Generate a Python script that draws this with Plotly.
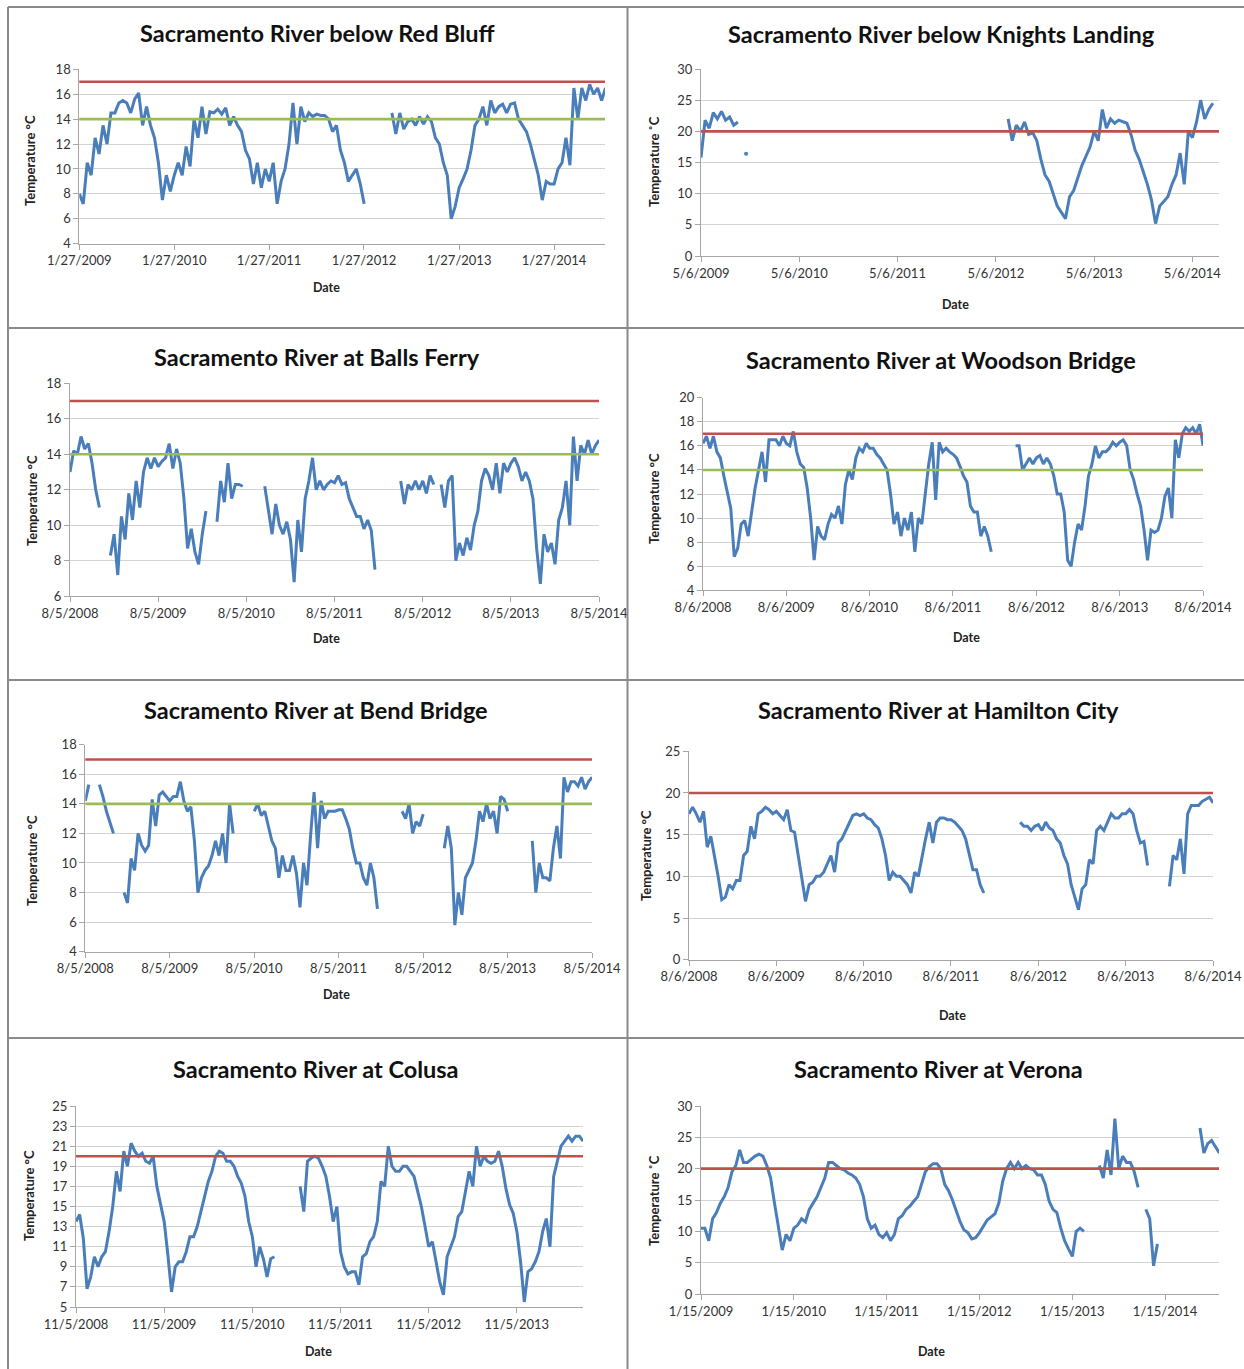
import plotly.graph_objects as go
import pandas as pd

N = None
W, H = 1244, 1369
STEP_DAYS = 365.25 / 24  # spacing of the readings

# ------------------------------------------------------------------ data
RB_START = "2009-01-27"
RB_TEMP = [
    8.0, 7.2, 10.5, 9.5, 12.5, 11.2, 13.5, 12.0, 14.5, 14.5, 15.3, 15.5, 15.3, 14.5, 15.6, 16.1, 13.5, 15.0, 13.5, 12.5, 10.5, 7.5, 9.5, 8.2,
    9.5, 10.5, 9.5, 11.8, 10.2, 14.0, 12.5, 15.0, 12.8, 14.6, 14.5, 14.8, 14.4, 14.9, 13.5, 14.2, 13.5, 13.0, 11.5, 10.8, 8.8, 10.5, 8.5, 10.0,
    9.0, 10.5, 7.2, 9.0, 10.0, 12.0, 15.3, 12.0, 15.0, 13.8, 14.5, 14.2, 14.4, 14.3, 14.3, 14.0, 13.0, 13.5, 11.5, 10.5, 9.0, 9.5, 10.0, 8.8,
    7.2, N, N, N, N, N, N, 14.5, 12.8, 14.5, 13.2, 13.8, 14.0, 13.5, 14.2, 13.6, 14.2, 13.8, 12.5, 12.0, 10.5, 9.5, 6.0, 7.0,
    8.5, 9.2, 10.0, 11.5, 13.5, 14.0, 15.0, 13.5, 15.5, 14.5, 15.0, 15.2, 14.5, 15.2, 15.3, 14.0, 13.5, 13.0, 12.0, 10.8, 9.5, 7.5, 9.0, 8.8,
    8.8, 10.0, 10.5, 12.5, 10.3, 16.5, 14.0, 16.5, 15.5, 16.8, 16.0, 16.5, 15.5, 16.5,
]
RB_TICKS = ["1/27/2009", "1/27/2010", "1/27/2011", "1/27/2012", "1/27/2013", "1/27/2014"]
RB_END = "2014-08-11"
RB_Y = [4, 6, 8, 10, 12, 14, 16, 18]
RB_LIMITS = [17, 14]

KL_START = "2009-05-06"
KL_TEMP = (
    [15.8, 21.8, 20.5, 23.0, 22.0, 23.2, 21.8, 22.3, 21.0, 21.5, N, 16.4]
    + [N] * 63
    + [22.0, 18.5, 21.0, 20.0, 21.5, 19.5, 19.8, 18.5, 15.5, 13.0, 12.0, 10.0, 8.0, 7.0, 6.0, 9.5, 10.5, 12.5,
       14.5, 16.0, 17.5, 20.0, 18.5, 23.5, 20.5, 22.0, 21.3, 21.8, 21.5, 21.3, 19.5, 17.0, 15.5, 13.5, 11.5, 9.0,
       5.2, 8.0, 8.8, 9.5, 11.5, 13.0, 16.5, 11.5, 20.0, 19.0, 21.5, 25.0, 22.0, 23.5, 24.5]
)
KL_TICKS = ["5/6/2009", "5/6/2010", "5/6/2011", "5/6/2012", "5/6/2013", "5/6/2014"]
KL_END = "2014-08-13"
KL_Y = [0, 5, 10, 15, 20, 25, 30]
KL_LIMITS = [20]

BF_START = "2008-08-05"
BF_TEMP = [
    13.0, 14.2, 14.0, 15.0, 14.3, 14.6, 13.5, 12.0, 11.0, N, N,
    8.3, 9.5, 7.2, 10.5, 9.2, 11.8, 10.3, 12.5, 11.0, 13.0, 13.8, 13.2, 13.8, 13.3, 13.6, 13.8, 14.6, 13.2, 14.3,
    13.5, 11.5, 8.7, 9.8, 8.5, 7.8, 9.5, 10.8, N, N,
    10.2, 12.5, 11.3, 13.5, 11.5, 12.3, 12.3, 12.2, N, N, N, N, N,
    12.2, 10.8, 9.5, 11.2, 10.0, 9.5, 10.2, 9.2, 6.8, 10.3, 8.5, 11.5, 12.5, 13.8, 12.0, 12.5, 12.0, 12.3, 12.5,
    12.4, 12.8, 12.3, 12.4, 11.5, 11.0, 10.5, 10.5, 9.8, 10.3, 9.7, 7.5, N, N, N, N, N, N,
    12.5, 11.2, 12.3, 12.0, 12.5, 12.0, 12.5, 11.8, 12.8, 12.3, N,
    12.3, 11.0, 12.5, 12.8, 8.0, 9.0, 8.3, 9.3, 8.6, 10.0, 10.8, 12.5, 13.2, 12.8, 12.0, 13.5, 11.8, 13.5, 13.0,
    13.5, 13.8, 13.3, 12.5, 13.0, 12.5, 11.5, 8.7, 6.7, 9.5, 8.5, 9.0, 7.8, 10.3, 11.0, 12.5, 10.0, 15.0, 12.5,
    14.5, 14.0, 14.8, 14.0, 14.5, 14.8,
]
BF_TICKS = ["8/5/2008", "8/5/2009", "8/5/2010", "8/5/2011", "8/5/2012", "8/5/2013", "8/5/2014"]
BF_END = "2014-08-05"
BF_Y = [6, 8, 10, 12, 14, 16, 18]
BF_LIMITS = [17, 14]

WB_START = "2008-08-06"
WB_TEMP = [
    16.2, 16.8, 15.8, 16.8, 15.5, 15.0, 13.5, 12.0, 10.8, 6.8, 7.5, 9.5, 9.8, 8.5, 10.5, 12.5, 14.0, 15.5, 13.0, 16.5,
    16.5, 16.5, 16.0, 16.8, 16.2, 16.0, 17.2, 15.5, 14.5, 14.2, 12.5, 10.0, 6.5, 9.3, 8.5, 8.2, 9.5, 10.3, 10.0, 11.0,
    9.5, 12.8, 14.0, 13.2, 15.0, 15.8, 15.5, 16.2, 15.8, 15.8, 15.3, 15.0, 14.5, 14.0, 12.0, 9.5, 10.5, 8.5, 10.0, 9.0,
    10.5, 7.2, 10.0, 9.5, 12.0, 14.5, 16.3, 11.5, 16.3, 15.5, 15.8, 15.5, 15.3, 15.0, 14.3, 13.5, 13.0, 11.0, 10.5, 10.5,
    8.5, 9.3, 8.5, 7.2, N, N, N, N, N, N,
    16.0, 16.0, 14.0, 14.5, 15.0, 14.5, 15.0, 15.2, 14.5, 15.0, 14.5, 13.5, 12.0, 12.0, 10.5, 6.5, 6.0, 8.0, 9.5, 9.0,
    11.0, 13.5, 14.5, 16.0, 15.0, 15.5, 15.5, 15.8, 16.3, 16.0, 16.3, 16.5, 16.0, 14.0, 13.2, 12.0, 11.0, 9.0, 6.5, 9.0,
    8.8, 9.0, 10.0, 11.8, 12.5, 10.0, 16.5, 15.0, 17.0, 17.5, 17.2, 17.5, 17.0, 17.8, 16.0,
]
WB_TICKS = ["8/6/2008", "8/6/2009", "8/6/2010", "8/6/2011", "8/6/2012", "8/6/2013", "8/6/2014"]
WB_END = "2014-08-06"
WB_Y = [4, 6, 8, 10, 12, 14, 16, 18, 20]
WB_LIMITS = [17, 14]

BB_START = "2008-08-05"
BB_TEMP = [
    14.2, 15.3, N, N, 15.3, 14.5, 13.5, 12.8, 12.0, N, N,
    8.0, 7.3, 10.3, 9.5, 12.0, 11.2, 10.8, 11.2, 14.3, 12.5, 14.6, 14.8, 14.5, 14.2, 14.5, 14.5, 15.5, 14.2, 13.5, 13.8,
    11.5, 8.0, 9.0, 9.5, 9.8, 10.5, 11.5, 10.5, 12.0, 10.0, 14.0, 12.0, N, N, N, N, N,
    13.5, 14.0, 13.2, 13.5, 12.5, 11.5, 11.0, 9.0, 10.5, 9.5, 9.5, 10.5, 9.3, 7.0, 10.0, 8.5, 11.8, 14.8, 11.0, 14.2,
    13.0, 13.5, 13.5, 13.5, 13.6, 13.6, 13.0, 12.3, 11.0, 10.0, 10.0, 9.0, 8.5, 10.0, 9.0, 6.9, N, N, N, N, N, N,
    13.5, 13.0, 14.0, 12.0, 12.8, 12.5, 13.3, N, N, N, N, N,
    11.0, 12.5, 11.0, 5.8, 8.0, 6.5, 9.0, 9.5, 10.0, 11.5, 13.5, 12.8, 14.0, 13.0, 13.5, 12.0, 14.5, 14.3, 13.5,
    N, N, N, N, N, N,
    11.5, 8.0, 10.0, 9.0, 9.0, 8.8, 11.0, 12.5, 10.3, 15.8, 14.8, 15.5, 15.5, 15.2, 15.8, 15.0, 15.5, 15.8,
]
BB_TICKS = ["8/5/2008", "8/5/2009", "8/5/2010", "8/5/2011", "8/5/2012", "8/5/2013", "8/5/2014"]
BB_END = "2014-08-05"
BB_Y = [4, 6, 8, 10, 12, 14, 16, 18]
BB_LIMITS = [17, 14]

HC_START = "2008-08-06"
HC_TEMP = [
    17.5, 18.3, 17.5, 16.5, 17.8, 13.5, 14.8, 12.5, 10.0, 7.2, 7.5, 9.0, 8.5, 9.5, 9.5, 12.5, 13.0, 16.0, 14.5, 17.5,
    17.8, 18.3, 18.0, 17.5, 17.8, 17.3, 16.8, 18.0, 15.5, 15.3, 12.5, 10.0, 7.0, 9.0, 9.3, 10.0, 10.0, 10.5, 11.5, 12.5,
    10.5, 14.0, 14.5, 15.5, 16.5, 17.3, 17.5, 17.3, 17.5, 17.0, 16.8, 16.2, 15.8, 14.5, 12.5, 9.5, 10.5, 10.0, 10.0, 9.5,
    9.0, 8.0, 10.5, 10.0, 12.5, 14.5, 16.5, 14.0, 16.5, 17.0, 17.0, 16.8, 16.8, 16.5, 16.0, 15.5, 14.5, 12.5, 10.8, 10.8,
    9.0, 8.0, N, N, N, N, N, N, N, N, N,
    16.5, 16.0, 16.0, 15.5, 16.0, 16.2, 15.5, 16.5, 15.8, 15.5, 14.5, 14.0, 12.5, 11.5, 9.0, 7.5, 6.0, 8.5, 9.0, 12.0,
    11.5, 15.5, 16.0, 15.5, 16.5, 17.5, 17.0, 17.0, 17.5, 17.5, 18.0, 17.5, 15.5, 14.0, 14.2, 11.3,
    N, N, N, N, N,
    8.8, 12.5, 12.0, 14.5, 10.3, 17.5, 18.5, 18.5, 18.5, 19.0, 19.3, 19.5, 18.8,
]
HC_TICKS = ["8/6/2008", "8/6/2009", "8/6/2010", "8/6/2011", "8/6/2012", "8/6/2013", "8/6/2014"]
HC_END = "2014-08-06"
HC_Y = [0, 5, 10, 15, 20, 25]
HC_LIMITS = [20]

CO_START = "2008-11-05"
CO_TEMP = [
    13.5, 14.2, 11.8, 6.8, 8.0, 10.0, 9.0, 10.0, 10.5, 12.5, 15.0, 18.5, 16.5, 20.5, 19.0, 21.3, 20.5, 20.0, 20.3, 19.5,
    19.3, 20.0, 17.0, 15.2, 13.5, 10.2, 6.5, 9.0, 9.5, 9.5, 10.5, 12.0, 12.0, 13.0, 14.5, 16.0, 17.5, 18.5, 20.0, 20.5,
    20.3, 19.5, 19.5, 19.0, 18.0, 17.3, 16.0, 13.5, 12.0, 9.0, 11.0, 9.8, 8.0, 9.8, 10.0,
    N, N, N, N, N, N,
    17.0, 14.5, 19.5, 19.8, 20.0, 19.8, 19.0, 18.0, 16.0, 13.5, 15.0, 10.5, 9.0, 8.3, 8.5, 8.5, 7.2, 10.0, 10.3, 11.5,
    12.0, 13.5, 17.5, 17.0, 21.0, 19.0, 18.5, 18.5, 19.0, 19.0, 18.5, 18.0, 16.5, 15.0, 13.0, 11.0, 11.5, 9.5, 7.5, 6.2,
    10.0, 11.0, 12.0, 14.0, 14.5, 16.5, 18.5, 17.0, 21.0, 19.0, 20.0, 19.5, 19.3, 19.5, 20.5, 19.0, 16.8, 15.2, 14.3, 12.5,
    9.5, 5.5, 8.5, 8.8, 9.5, 10.5, 12.5, 13.8, 11.0, 18.0, 19.5, 21.0, 21.5, 22.0, 21.5, 22.0, 22.0, 21.5,
]
CO_TICKS = ["11/5/2008", "11/5/2009", "11/5/2010", "11/5/2011", "11/5/2012", "11/5/2013"]
CO_END = "2014-08-06"
CO_Y = [5, 7, 9, 11, 13, 15, 17, 19, 21, 23, 25]
CO_LIMITS = [20]

VE_START = "2009-01-15"
VE_TEMP = [
    10.5, 10.5, 8.5, 12.0, 13.0, 14.5, 15.5, 17.0, 19.5, 20.5, 23.0, 21.0, 21.0, 21.5, 22.0, 22.3, 22.0, 20.5, 18.5, 14.5,
    10.5, 7.0, 9.5, 8.5, 10.5, 11.0, 12.0, 11.5, 13.5, 14.5, 15.5, 17.0, 18.5, 21.0, 21.0, 20.5, 20.0, 19.8, 19.3, 19.0,
    18.5, 17.5, 15.5, 12.0, 10.5, 11.0, 9.5, 9.0, 9.8, 8.5, 9.5, 12.0, 12.5, 13.5, 14.0, 14.8, 15.5, 17.5, 19.5, 20.3,
    20.8, 20.8, 20.0, 17.5, 16.5, 15.0, 13.2, 11.5, 10.2, 9.8, 8.8, 9.0, 9.8, 10.8, 11.8, 12.3, 12.8, 14.5, 18.0, 20.0,
    21.0, 20.0, 21.0, 20.0, 20.5, 20.0, 19.8, 19.0, 19.0, 17.5, 14.8, 13.5, 13.0, 10.5, 8.5, 7.2, 6.0, 10.0, 10.5, 10.0,
    N, N, N,
    20.5, 18.5, 23.0, 19.0, 28.0, 20.0, 22.0, 21.0, 21.0, 19.5, 17.0,
    N,
    13.5, 12.0, 4.5, 8.0,
    N, N, N, N, N, N, N, N, N, N,
    26.5, 22.5, 24.0, 24.5, 23.5, 22.5,
]
VE_TICKS = ["1/15/2009", "1/15/2010", "1/15/2011", "1/15/2012", "1/15/2013", "1/15/2014"]
VE_END = "2014-08-15"
VE_Y = [0, 5, 10, 15, 20, 25, 30]
VE_LIMITS = [20]

LIMIT_COLORS = {17: "#C0504D", 20: "#C0504D", 14: "#9BBB59"}

# ------------------------------------------------------------------ layout boxes (pixels)
FONT = "Lato, 'Open Sans', sans-serif"
BLUE = "#4A7EBB"

panels = [
    dict(title="Sacramento River below Red Bluff", start=RB_START, end=RB_END, temp=RB_TEMP, ticks=RB_TICKS,
         y=RB_Y, limits=RB_LIMITS, box=(79.3, 605, 69.3, 243.7), tpos=(317, 33), dpos=(326, 287), ypos=(30, 160),
         ytitle="Temperature °C"),
    dict(title="Sacramento River below Knights Landing", start=KL_START, end=KL_END, temp=KL_TEMP, ticks=KL_TICKS,
         y=KL_Y, limits=KL_LIMITS, box=(701, 1219, 69, 256), tpos=(941, 34), dpos=(955, 304), ypos=(654, 162),
         ytitle="Temperature ˚C"),
    dict(title="Sacramento River at Balls Ferry", start=BF_START, end=BF_END, temp=BF_TEMP, ticks=BF_TICKS,
         y=BF_Y, limits=BF_LIMITS, box=(70, 599, 383.3, 596.3), tpos=(317, 357), dpos=(326, 639), ypos=(32, 501),
         ytitle="Temperature °C"),
    dict(title="Sacramento River at Woodson Bridge", start=WB_START, end=WB_END, temp=WB_TEMP, ticks=WB_TICKS,
         y=WB_Y, limits=WB_LIMITS, box=(703, 1203, 397.7, 590.3), tpos=(941, 360), dpos=(967, 637), ypos=(654, 499),
         ytitle="Temperature °C"),
    dict(title="Sacramento River at Bend Bridge", start=BB_START, end=BB_END, temp=BB_TEMP, ticks=BB_TICKS,
         y=BB_Y, limits=BB_LIMITS, box=(85.3, 592, 744.7, 951.7), tpos=(316, 710), dpos=(336, 994), ypos=(32, 861),
         ytitle="Temperature °C"),
    dict(title="Sacramento River at Hamilton City", start=HC_START, end=HC_END, temp=HC_TEMP, ticks=HC_TICKS,
         y=HC_Y, limits=HC_LIMITS, box=(689, 1213, 751.3, 959.7), tpos=(939, 710), dpos=(953, 1015), ypos=(646, 856),
         ytitle="Temperature °C"),
    dict(title="Sacramento River at Colusa", start=CO_START, end=CO_END, temp=CO_TEMP, ticks=CO_TICKS,
         y=CO_Y, limits=CO_LIMITS, box=(76, 583, 1106, 1307), tpos=(316, 1069), dpos=(318, 1351), ypos=(29, 1196),
         ytitle="Temperature °C"),
    dict(title="Sacramento River at Verona", start=VE_START, end=VE_END, temp=VE_TEMP, ticks=VE_TICKS,
         y=VE_Y, limits=VE_LIMITS, box=(701, 1219, 1106, 1294), tpos=(939, 1069), dpos=(931, 1351), ypos=(654, 1201),
         ytitle="Temperature ˚C"),
]


def px_x(v):
    return v / W


def px_y(v):
    return 1 - v / H


fig = go.Figure()
annotations = []
shapes = []

for k, p in enumerate(panels, start=1):
    sfx = "" if k == 1 else str(k)
    xa, ya = "x" + sfx, "y" + sfx
    start = pd.Timestamp(p["start"])
    dates = [start + pd.Timedelta(days=i * STEP_DAYS) for i in range(len(p["temp"]))]
    vals = p["temp"]

    fig.add_trace(go.Scatter(x=dates, y=vals, mode="lines", xaxis=xa, yaxis=ya,
                             line=dict(color=BLUE, width=3), connectgaps=False,
                             showlegend=False, hoverinfo="x+y"))
    # isolated single readings (no neighbours) drawn as dots
    iso_x, iso_y = [], []
    for i, v in enumerate(vals):
        if v is None:
            continue
        prev_none = i == 0 or vals[i - 1] is None
        next_none = i == len(vals) - 1 or vals[i + 1] is None
        if prev_none and next_none:
            iso_x.append(dates[i])
            iso_y.append(v)
    if iso_x:
        fig.add_trace(go.Scatter(x=iso_x, y=iso_y, mode="markers", xaxis=xa, yaxis=ya,
                                 marker=dict(color=BLUE, size=4), showlegend=False))

    tick_dates = [pd.to_datetime(t, format="%m/%d/%Y") for t in p["ticks"]]
    x0, x1, yt, yb = p["box"]
    axis_col = "#A6A6A6"
    fig.layout["xaxis" + sfx] = dict(
        type="date", domain=[px_x(x0), px_x(x1)], anchor=ya, automargin=False,
        range=[start, pd.Timestamp(p["end"])],
        tickvals=tick_dates, ticktext=p["ticks"], tickangle=0, ticklabeloverflow="allow",
        ticks="outside", ticklen=5, tickcolor=axis_col, tickwidth=1,
        showline=True, linecolor=axis_col, linewidth=1,
        showgrid=False, zeroline=False, fixedrange=True,
        tickfont=dict(family=FONT, size=13, color="#333333"),
    )
    fig.layout["yaxis" + sfx] = dict(
        domain=[px_y(yb), px_y(yt)], anchor=xa, automargin=False,
        range=[p["y"][0], p["y"][-1]], tickvals=p["y"],
        ticks="outside", ticklen=5, tickcolor=axis_col, tickwidth=1,
        showline=True, linecolor=axis_col, linewidth=1,
        showgrid=True, gridcolor="#D3D3D3", gridwidth=1, zeroline=False, fixedrange=True,
        tickfont=dict(family=FONT, size=13, color="#333333"),
    )
    for lim in p["limits"]:
        shapes.append(dict(type="line", xref=xa + " domain", yref=ya, x0=0, x1=1, y0=lim, y1=lim,
                           line=dict(color=LIMIT_COLORS[lim], width=2.6), layer="above"))

    annotations.append(dict(text="<b>%s</b>" % p["title"], x=px_x(p["tpos"][0]), y=px_y(p["tpos"][1]),
                            xref="paper", yref="paper", showarrow=False, xanchor="center", yanchor="middle",
                            font=dict(family=FONT, size=23.5, color="#111111")))
    annotations.append(dict(text="<b>Date</b>", x=px_x(p["dpos"][0]), y=px_y(p["dpos"][1]),
                            xref="paper", yref="paper", showarrow=False, xanchor="center", yanchor="middle",
                            font=dict(family=FONT, size=12.5, color="#222222")))
    annotations.append(dict(text="<b>%s</b>" % p["ytitle"], x=px_x(p["ypos"][0]), y=px_y(p["ypos"][1]),
                            xref="paper", yref="paper", showarrow=False, xanchor="center", yanchor="middle",
                            textangle=-90, font=dict(family=FONT, size=13, color="#222222")))

# panel frame lines
frame = dict(color="#8A8A8A", width=2)
frame_lines = [
    (8, 7, 8, H), (8, 7, W, 7), (627.5, 7, 627.5, H),
    (8, 328, W, 328), (8, 680, W, 680), (8, 1038, W, 1038),
]
for (ax0, ay0, ax1, ay1) in frame_lines:
    shapes.append(dict(type="line", xref="paper", yref="paper", x0=px_x(ax0), y0=px_y(ay0),
                       x1=px_x(ax1), y1=px_y(ay1), line=frame, layer="above"))

fig.update_layout(
    width=W, height=H, autosize=False,
    margin=dict(l=0, r=0, t=0, b=0, pad=0, autoexpand=False),
    paper_bgcolor="white", plot_bgcolor="white",
    showlegend=False, annotations=annotations, shapes=shapes,
    font=dict(family=FONT),
)

fig.write_html("out.html", config={"displayModeBar": False})
with open("out.html", encoding="utf-8") as f:
    html = f.read()
html = html.replace("<head>", "<head><style>html,body{margin:0;padding:0;overflow:hidden;}</style>", 1)
with open("out.html", "w", encoding="utf-8") as f:
    f.write(html)
